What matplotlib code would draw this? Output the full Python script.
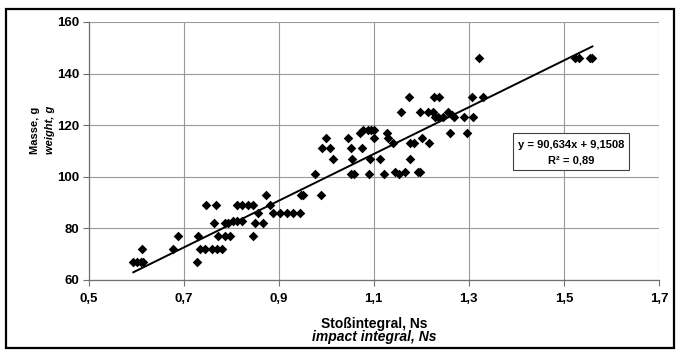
import matplotlib
matplotlib.use("Agg")
import matplotlib.pyplot as plt
from matplotlib.patches import Rectangle
import numpy as np

plt.rcParams['font.family'] = ['Liberation Sans', 'DejaVu Sans']

# impact integral (Ns) and weight (g)
impact = [0.594, 0.602, 0.610, 0.615, 0.612, 0.678, 0.688, 0.728, 0.731, 0.735,
          0.745, 0.760, 0.770, 0.781, 0.748, 0.768, 0.764, 0.773, 0.787, 0.798,
          0.787, 0.794, 0.804, 0.813, 0.823, 0.813, 0.823, 0.836, 0.846, 0.846,
          0.850, 0.867, 0.857, 0.874, 0.882, 0.888, 0.903, 0.918, 0.930, 0.945,
          0.946, 0.952, 0.988, 0.977, 0.992, 1.008, 1.000, 1.015, 1.046, 1.051,
          1.059, 1.053, 1.055, 1.070, 1.076, 1.078, 1.087, 1.095, 1.101, 1.089,
          1.091, 1.101, 1.112, 1.122, 1.127, 1.129, 1.141, 1.145, 1.152, 1.166,
          1.158, 1.175, 1.177, 1.177, 1.185, 1.192, 1.198, 1.198, 1.202, 1.213,
          1.217, 1.225, 1.227, 1.238, 1.229, 1.236, 1.246, 1.257, 1.264, 1.268,
          1.261, 1.290, 1.309, 1.296, 1.307, 1.330, 1.322, 1.524, 1.531, 1.554,
          1.558]
weight = [67, 67, 67, 67, 72, 72, 77, 67, 77, 72,
          72, 72, 72, 72, 89, 89, 82, 77, 77, 77,
          82, 82, 83, 83, 83, 89, 89, 89, 89, 77,
          82, 82, 86, 93, 89, 86, 86, 86, 86, 86,
          93, 93, 93, 101, 111, 111, 115, 107, 115, 101,
          101, 111, 107, 117, 111, 118, 118, 118, 118, 101,
          107, 115, 107, 101, 117, 115, 113, 102, 101, 102,
          125, 131, 107, 113, 113, 102, 102, 125, 115, 125,
          113, 125, 131, 131, 123, 123, 123, 125, 124, 123,
          117, 123, 123, 117, 131, 131, 146, 146, 146, 146,
          146]

# regression
slope = 90.634
intercept = 9.1508
fit_range = [0.594, 1.56]
eq_label = "y = 90,634x + 9,1508"
r2_label = "R\u00b2 = 0,89"

xticks = [0.5, 0.7, 0.9, 1.1, 1.3, 1.5, 1.7]
xtick_labels = ["0,5", "0,7", "0,9", "1,1", "1,3", "1,5", "1,7"]
yticks = [60, 80, 100, 120, 140, 160]

fig = plt.figure(figsize=(6.8, 3.53), dpi=100)
ax = fig.add_axes([88.6/680, 1-280/353, (659-88.6)/680, (280-22)/353])

grid_c = '#999999'
ax.set_xlim(0.5, 1.7)
ax.set_ylim(60, 160)
ax.set_xticks(xticks)
ax.set_xticklabels(xtick_labels)
ax.set_yticks(yticks)
ax.grid(True, color=grid_c, lw=0.8)
ax.set_axisbelow(True)
for s in ['top', 'right']:
    ax.spines[s].set_visible(False)
for s in ['left', 'bottom']:
    ax.spines[s].set_color('#707070')
    ax.spines[s].set_linewidth(0.9)
ax.tick_params(axis='both', colors='#707070', length=4, width=0.8,
               labelcolor='black', labelsize=9.5)
ax.tick_params(axis='x', pad=5)
ax.tick_params(axis='y', pad=3)
for lab in ax.get_xticklabels() + ax.get_yticklabels():
    lab.set_fontweight('bold')

ax.scatter(impact, weight, marker='D', s=24, color='black', zorder=3, linewidths=0)
xf = np.array(fit_range)
ax.plot(xf, slope*xf + intercept, color='black', lw=1.4, zorder=4)

# equation box
ax.add_patch(Rectangle((0.744, 0.426), 0.203, 0.144, transform=ax.transAxes,
                       facecolor='white', edgecolor='#404040', lw=0.8, zorder=5))
ax.text(0.8455, 0.523, eq_label, transform=ax.transAxes, ha='center', va='center',
        fontsize=8, fontweight='bold', zorder=6)
ax.text(0.8455, 0.462, r2_label, transform=ax.transAxes, ha='center', va='center',
        fontsize=8, fontweight='bold', zorder=6)

# axis labels
fig.text(35/680, 1-130/353, "Masse, g", rotation=90, ha='center', va='center',
         fontsize=8, fontweight='bold')
fig.text(50/680, 1-130/353, "weight, g", rotation=90, ha='center', va='center',
         fontsize=8, fontweight='bold', style='italic')
fig.text(374/680, 1-324/353, "Sto\u00dfintegral, Ns", ha='center', va='center',
         fontsize=10, fontweight='bold')
fig.text(374/680, 1-337/353, "impact integral, Ns", ha='center', va='center',
         fontsize=10, fontweight='bold', style='italic')

# outer frame
fig.patches.append(Rectangle((6/680, 1-348/353), 668/680, 339/353,
                             transform=fig.transFigure, fill=False,
                             edgecolor='black', lw=1.6))

fig.savefig("out.png", dpi=100)
